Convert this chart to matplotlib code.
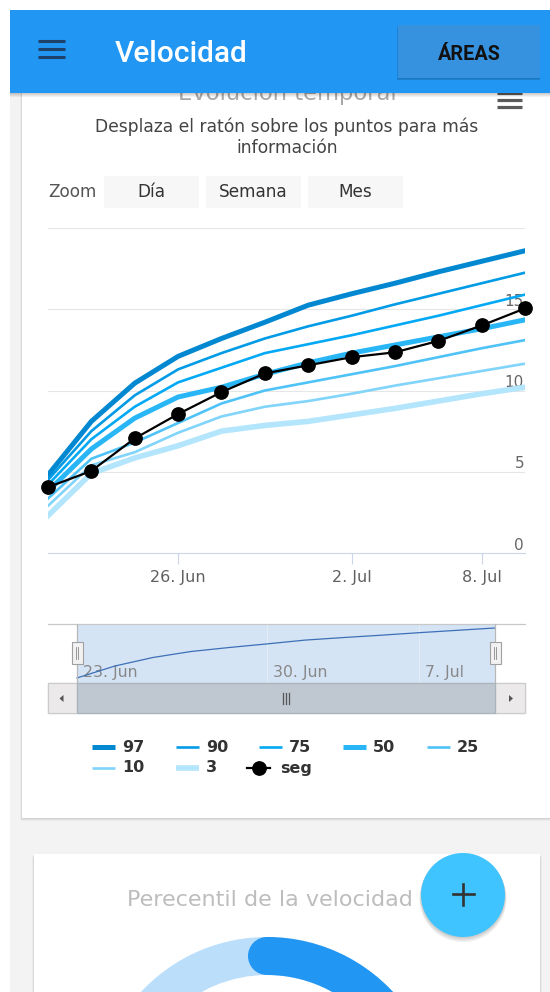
import numpy as np
import pandas as pd
import matplotlib.pyplot as plt
import matplotlib.patches as patches
from matplotlib import transforms

W, H = 550, 992

# fechas de medida (eje ordinal: un punto por fecha)
fechas = pd.to_datetime(['2016-06-23', '2016-06-24', '2016-06-25', '2016-06-26',
                         '2016-06-28', '2016-06-30', '2016-07-01', '2016-07-02',
                         '2016-07-04', '2016-07-07', '2016-07-08', '2016-07-10'])
ticks_grafico = pd.to_datetime(['2016-06-26', '2016-07-02', '2016-07-08'])
ticks_navegador = pd.to_datetime(['2016-06-23', '2016-06-30', '2016-07-07'])

# percentiles de referencia
p97 = [4.8, 8.1, 10.45, 12.1, 13.2, 14.2, 15.25, 15.95, 16.6, 17.3, 17.95, 18.6]
p90 = [4.5, 7.5, 9.7, 11.3, 12.3, 13.2, 13.95, 14.6, 15.3, 15.95, 16.6, 17.25]
p75 = [4.2, 7.0, 9.0, 10.5, 11.4, 12.3, 12.85, 13.4, 14.0, 14.6, 15.25, 15.9]
p50 = [3.8, 6.4, 8.3, 9.6, 10.2, 11.0, 11.7, 12.3, 12.8, 13.3, 13.8, 14.35]
p25 = [3.35, 5.8, 6.8, 8.0, 9.2, 10.0, 10.5, 11.0, 11.5, 12.05, 12.6, 13.1]
p10 = [2.9, 5.4, 6.2, 7.4, 8.4, 9.0, 9.35, 9.8, 10.3, 10.75, 11.2, 11.65]
p3 = [2.3, 4.9, 5.85, 6.6, 7.5, 7.85, 8.1, 8.5, 8.9, 9.35, 9.8, 10.2]
etiquetas = ['97', '90', '75', '50', '25', '10', '3']

# velocidad del usuario
seg = [4.05, 5.05, 7.05, 8.55, 9.9, 11.05, 11.55, 12.05, 12.35, 13.05, 14.0, 15.05]

percentil_actual = 62

series = [p97, p90, p75, p50, p25, p10, p3]
colores = ['#0288D1', '#039BE5', '#03A9F4', '#29B6F6', '#4FC3F7', '#81D4FA', '#B3E5FC']
grosores = [3.6, 1.9, 1.9, 3.6, 1.9, 1.9, 4.0]

x = np.arange(len(fechas))


def fecha_txt(d):
    return f"{d.day}. {d:%b}"


def pos(d):
    return int(np.where(fechas == d)[0][0])


fig = plt.figure(figsize=(W / 100, H / 100), dpi=100)


def capa_pixeles():
    a = fig.add_axes([0, 0, 1, 1])
    a.set_xlim(0, W)
    a.set_ylim(H, 0)
    a.axis('off')
    return a


page = capa_pixeles()


def caja(x0, y0, w, h, capa=None, **kw):
    (capa or page).add_patch(patches.Rectangle((x0, y0), w, h, **kw))


def sombra(x0, y0, w, h, z=1, capas=4):
    for i in range(1, capas + 1):
        caja(x0 - i * 0.4, y0 + i * 0.7, w + i * 0.8, h, color='black',
             alpha=0.035, lw=0, zorder=z)


# fondo de la página y tarjetas
caja(10, 10, 560, 1000, color='#f3f3f3', lw=0, zorder=0, clip_on=False)
sombra(22, 60, 560, 758, z=0.5)
caja(22, 60, 560, 758, color='white', lw=0, zorder=1, clip_on=False)
sombra(34, 854, 506, 200, z=0.5)
caja(34, 854, 506, 200, color='white', lw=0, zorder=1)

# título del gráfico (queda medio tapado por la barra)
page.text(287, 100, 'Evolución temporal', ha='center', va='baseline',
          fontsize=16.3, color='#a8a8a8', zorder=2)
for yy in (93, 100, 107):
    page.plot([497, 522], [yy, yy], color='#5a5a5a', lw=2.3,
              solid_capstyle='butt', zorder=2)
page.text(287, 132, 'Desplaza el ratón sobre los puntos para más', ha='center',
          va='baseline', fontsize=12.3, color='#444444', zorder=2)
page.text(287, 153, 'información', ha='center', va='baseline',
          fontsize=12.3, color='#444444', zorder=2)

# barra superior
for i in range(1, 5):
    caja(10, 93, 560, i * 1.1, color='black', alpha=0.05, lw=0, zorder=9,
         clip_on=False)
caja(10, 10, 560, 83, color='#2196F3', lw=0, zorder=10, clip_on=False)
for yy in (40.5, 48.5, 56.5):
    page.plot([38, 65], [yy, yy], color='#1c416a', lw=2.2,
              solid_capstyle='butt', zorder=11)
page.text(115, 62, 'Velocidad', fontfamily='Roboto', fontweight='medium',
          fontsize=21.5, color='white', va='baseline', zorder=11)
for i in range(1, 4):
    caja(398 - i * 0.3, 25 + i * 0.8, 141.5 + i * 0.6, 53, color='black',
         alpha=0.07, lw=0, zorder=10.5)
caja(398, 25, 141.5, 53, color='#3691df', lw=0, zorder=11)
page.text(469, 60, 'ÁREAS', fontfamily='Roboto', fontweight='bold',
          fontsize=14.3, color='#111111', ha='center', va='baseline', zorder=12)

# selector de zoom
page.text(48, 197, 'Zoom', fontsize=12.2, color='#555555', va='baseline', zorder=2)
for txt, x0, x1 in [('Día', 104, 199), ('Semana', 206, 301), ('Mes', 308, 403)]:
    caja(x0, 176, x1 - x0, 32, color='#f7f7f7', lw=0, zorder=2)
    page.text((x0 + x1) / 2, 197, txt, fontsize=12.2, color='#333333',
              ha='center', va='baseline', zorder=3)

# gráfico principal
ax = fig.add_axes([48 / W, 1 - 553 / H, 477 / W, 325 / H])
ax.patch.set_alpha(0)
ax.set_xlim(0, len(fechas) - 1)
ax.set_ylim(0, 20)
for s in ('top', 'left', 'right'):
    ax.spines[s].set_visible(False)
ax.spines['bottom'].set_color('#ccd6eb')
ax.spines['bottom'].set_linewidth(0.8)
ax.set_yticks([5, 10, 15, 20])
ax.yaxis.grid(True, color='#e6e6e6', lw=0.8)
ax.tick_params(axis='y', length=0, labelleft=False)
ax.set_axisbelow(True)
ax.set_xticks([pos(d) for d in ticks_grafico])
ax.set_xticklabels([fecha_txt(d) for d in ticks_grafico])
ax.tick_params(axis='x', length=8, width=0.8, color='#ccd6eb', pad=4,
               labelsize=11.5, labelcolor='#606060')

trans_y = transforms.offset_copy(ax.get_yaxis_transform(), fig=fig, x=-1, y=3.5,
                                 units='dots')
for v in (0, 5, 10, 15):
    ax.text(1, v, str(v), transform=trans_y, ha='right', va='baseline',
            fontsize=11, color='#666666', zorder=1)

for vals, c, lw in zip(series, colores, grosores):
    ax.plot(x, vals, color=c, lw=lw, solid_joinstyle='round', zorder=3)
ax.plot(x, seg, color='black', lw=1.6, marker='o', ms=9.6, zorder=5,
        clip_on=False)

# navegador
nav = fig.add_axes([48 / W, 1 - 683 / H, 477 / W, 59 / H])
nav.patch.set_alpha(0)
nav.set_xlim(-0.763, len(fechas) - 1 + 0.79)
nav.set_ylim(3.4, 19.7)
nav.axis('off')
nav.axvspan(0, len(fechas) - 1, color='#d5e4f5', lw=0, zorder=1)
for d in ticks_navegador:
    nav.axvline(pos(d), color='#e3ebf5', lw=0.8, zorder=1.5)
trans_nav = transforms.offset_copy(nav.get_xaxis_transform(), fig=fig, x=6, y=0,
                                   units='dots')
for d in ticks_navegador:
    nav.text(pos(d), 0.107, fecha_txt(d), transform=trans_nav, ha='left',
             va='baseline', fontsize=11.3, color='#888888', zorder=2)
nav.plot(x, p97, color='#3d6fb6', lw=0.9, zorder=3)

# capa superior: contorno y asas del navegador, barra de desplazamiento, leyenda
over = capa_pixeles()
over.plot([48, 525], [624, 624], color='#c8c8c8', lw=0.9, zorder=4)
for xx in (77, 495):
    over.plot([xx, xx], [624, 683], color='#b8b8b8', lw=0.9, zorder=4)
    caja(xx - 5.5, 642, 11, 22, capa=over, facecolor='#f2f2f2',
         edgecolor='#a0a0a0', lw=0.8, zorder=5)
    for dx in (-1.2, 1.2):
        over.plot([xx + dx, xx + dx], [647, 659], color='#888888', lw=0.6, zorder=6)

caja(48, 683, 477, 30, capa=over, facecolor='#f2f2f2', edgecolor='#cccccc',
     lw=0.9, zorder=4)
caja(48, 683, 29, 30, capa=over, facecolor='#ebe9e9', edgecolor='#cccccc',
     lw=0.9, zorder=5)
caja(495, 683, 30, 30, capa=over, facecolor='#ebe9e9', edgecolor='#cccccc',
     lw=0.9, zorder=5)
caja(77, 683, 418, 30, capa=over, facecolor='#bfc7d0', edgecolor='#aab2bb',
     lw=0.9, zorder=5)
for dx in (-3, 0, 3):
    over.plot([286 + dx, 286 + dx], [693, 704], color='#555555', lw=0.9, zorder=6)
over.add_patch(patches.Polygon([[59.5, 698.5], [63.5, 695], [63.5, 702]],
                               color='#555555', lw=0, zorder=6))
over.add_patch(patches.Polygon([[513, 698.5], [509, 695], [509, 702]],
                               color='#555555', lw=0, zorder=6))

fila1, fila2 = 747, 768
items = [(92, fila1), (176, fila1), (259, fila1), (343, fila1), (427, fila1),
         (92, fila2), (176, fila2)]
for (lx, ly), etq, c, lw in zip(items, etiquetas, colores, grosores):
    over.plot([lx, lx + 23], [ly, ly], color=c, lw=lw, solid_capstyle='butt', zorder=3)
    over.text(lx + 30, ly, etq, fontsize=11.5, fontweight='bold', color='#333333',
              va='center', zorder=3)
over.plot([247, 270], [fila2, fila2], color='black', lw=1.6, zorder=3)
over.plot([258.5], [fila2], 'o', color='black', ms=9.6, zorder=4)
over.text(280, fila2, 'seg', fontsize=11.5, fontweight='bold', color='#333333',
          va='center', zorder=3)

# segunda tarjeta: indicador de percentil
over.text(270, 906, 'Perecentil de la velocidad', ha='center', va='baseline',
          fontsize=16, color='#bdbdbd', zorder=2)
cx, cy, r_ext, ancho = 267, 1109, 172, 38
over.add_patch(patches.Wedge((cx, cy), r_ext, 0, 360, width=ancho,
                             color='#BBDEFB', lw=0, zorder=2))
fin = 270 + 360 * percentil_actual / 100
over.add_patch(patches.Wedge((cx, cy), r_ext, 270, fin, width=ancho,
                             color='#2196F3', lw=0, zorder=3))
r_med = r_ext - ancho / 2
for ang in (270, fin):
    t = np.deg2rad(ang)
    over.add_patch(patches.Circle((cx + r_med * np.cos(t), cy + r_med * np.sin(t)),
                                  ancho / 2, color='#2196F3', lw=0, zorder=3))

# botón flotante
for i in range(1, 5):
    over.add_patch(patches.Circle((463, 895 + i * 0.9), 42 + i * 0.4, color='black',
                                  alpha=0.05, lw=0, zorder=6))
over.add_patch(patches.Circle((463, 895), 42, color='#40C4FF', lw=0, zorder=7))
over.plot([452.5, 473.5], [894, 894], color='#333333', lw=1.9, zorder=8)
over.plot([463, 463], [883.5, 904.5], color='#333333', lw=1.9, zorder=8)

fig.savefig('out.png', dpi=100)
